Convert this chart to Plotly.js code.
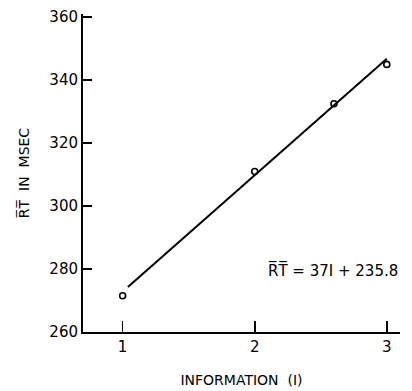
<!DOCTYPE html>
<html><head><meta charset="utf-8">
<script src="https://cdn.plot.ly/plotly-3.0.1.min.js"></script>
<style>html,body{margin:0;padding:0;background:#fff}#c{width:412px;height:391px}</style>
</head><body><div id="c"></div>
<script>
const pointsX = [1, 2, 2.6, 3];
const pointsY = [271.5, 311, 332.5, 345];
const fitX = [1.04, 3];
const fitY = [274.3, 346.8];
const yTicks = [260, 280, 300, 320, 340, 360];
const xTicks = [1, 2, 3];
const xTickText = ["1", "2", "3"];
const eqText = "R\u0305T\u0305 = 37I + 235.8";

const font = {family: "DejaVu Sans, Liberation Sans, sans-serif", color: "#000"};
Plotly.newPlot("c", [
  {x: fitX, y: fitY, mode: "lines", line: {color: "#000", width: 2}, hoverinfo: "skip"},
  {x: pointsX, y: pointsY, mode: "markers",
   marker: {symbol: "circle-open", size: 6, color: "#000", line: {width: 1.6, color: "#000"}}}
], {
  width: 412, height: 391,
  margin: {l: 83, r: 12, t: 14, b: 59},
  showlegend: false,
  paper_bgcolor: "#fff", plot_bgcolor: "#fff",
  font: Object.assign({size: 14}, font),
  xaxis: {range: [0.7, 3.1], tickvals: xTicks, ticktext: xTickText,
          ticks: "inside", ticklen: 11, tickwidth: 1.6, tickcolor: "#000",
          showline: true, linecolor: "#000", linewidth: 2, showgrid: false, zeroline: false,
          tickfont: Object.assign({size: 15}, font),
          title: {text: "INFORMATION  (I)", font: Object.assign({size: 14}, font), standoff: 20}},
  yaxis: {range: [260, 361], tickvals: yTicks,
          ticks: "inside", ticklen: 9, tickwidth: 1.6, tickcolor: "#000",
          showline: true, linecolor: "#000", linewidth: 2, showgrid: false, zeroline: false,
          tickfont: Object.assign({size: 15}, font),
          title: {text: "R\u0305T\u0305  IN  MSEC", font: Object.assign({size: 14}, font), standoff: 16}},
  annotations: [{x: 3.1, y: 279.6, xref: "x", yref: "y", xanchor: "right", yanchor: "middle",
                 text: eqText, showarrow: false, font: Object.assign({size: 15}, font)}]
}, {staticPlot: true});
</script></body></html>
